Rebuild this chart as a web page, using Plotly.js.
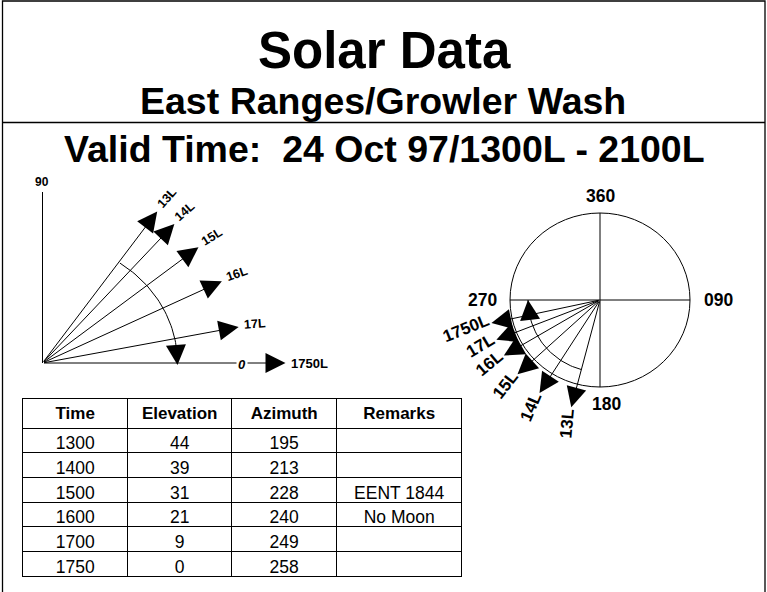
<!DOCTYPE html>
<html><head><meta charset="utf-8">
<script src="https://cdn.plot.ly/plotly-3.0.1.min.js"></script>
<style>html,body{margin:0;padding:0;background:#fff}</style>
</head><body>
<div id="chart" style="width:767px;height:592px"></div>
<script>
// ---------------- data ----------------
const times = ['1300', '1400', '1500', '1600', '1700', '1750'];
const elevation = [44, 39, 31, 21, 9, 0];
const azimuth = [195, 213, 228, 240, 249, 258];
const remarks = ['', '', 'EENT 1844', 'No Moon', '', ''];
const rayLabels = ['13L', '14L', '15L', '16L', '17L', '1750L'];
const tableHeaders = ['Time', 'Elevation', 'Azimuth', 'Remarks'];
const compassLabels = ['360', '090', '180', '270'];
const compassAngles = [0, 90, 180, 270];
const elevationTickLabels = ['90', '0'];

// ---------------- geometry / style (pixel frame) ----------------
const W = 767, H = 592;
const FONT = 'Liberation Sans, Arial, sans-serif';
const O = {x: 42.5, y: 363};          // elevation diagram origin
const STRETCH = 1.25;                  // drawn angle = STRETCH * elevation
const RAY_A = 200, RAY_B = 185;        // elevation ray tip ellipse
const ZERO_EXTRA = 43;                 // horizon ray extends past "0"
const ARC_A = 135, ARC_B = 122;
const VERT_LEN = 171;
const C = {x: 600, y: 300};            // compass centre
const CR_X = 90, CR_Y = 87;
const RAY_LEN = 111, ARC_R = 72;
const HEAD = 4.0;
const rad = d => d * Math.PI / 180;

const shapes = [];
const annotations = [];
const traces = [];

function arrow(x0, y0, x1, y1, size) {
  annotations.push({x: x1, y: y1, ax: x0, ay: y0, xref: 'x', yref: 'y', axref: 'x', ayref: 'y',
    text: '', showarrow: true, arrowhead: 2, arrowsize: size || HEAD, arrowwidth: 1,
    arrowcolor: '#000', standoff: 0, startstandoff: 0});
}
function label(x, y, text, size, angle, extra) {
  annotations.push(Object.assign({x: x, y: y, xref: 'x', yref: 'y', text: text, showarrow: false,
    xanchor: 'center', yanchor: 'middle', textangle: angle || 0, borderpad: 0,
    font: {family: FONT, size: size, color: '#000', weight: 'bold'}}, extra || {}));
}
function textW(t, size) { // rough bold text width
  let w = 0; for (const ch of t) w += (ch === 'L' ? 0.611 : 0.556); return w * size;
}

// frame and separator
shapes.push({type: 'rect', xref: 'x', yref: 'y', x0: 2.5, y0: 1, x1: 765, y1: 600, line: {color: '#000', width: 1.3}});
shapes.push({type: 'line', xref: 'x', yref: 'y', x0: 2.5, y0: 122.5, x1: 765, y1: 122.5, line: {color: '#000', width: 1.3}});

// titles
label(384, 50, 'Solar Data', 51);
label(383, 101, 'East Ranges/Growler Wash', 37.5);
label(384, 149, 'Valid Time:  24 Oct 97/1300L - 2100L', 37.5);

// ---------------- elevation diagram ----------------
shapes.push({type: 'line', xref: 'x', yref: 'y', x0: O.x, y0: O.y, x1: O.x, y1: O.y - VERT_LEN, line: {color: '#000', width: 1}});
label(O.x - 1, O.y - VERT_LEN - 10, elevationTickLabels[0], 12);

elevation.forEach((el, i) => {
  const phi = rad(STRETCH * el);
  const extra = el === 0 ? ZERO_EXTRA : 0;
  const tx = O.x + (RAY_A + extra) * Math.cos(phi);
  const ty = O.y - RAY_B * Math.sin(phi);
  arrow(O.x, O.y, tx, ty);
  const fs = el === 0 ? 13 : 12.5;
  const d = 6 + textW(rayLabels[i], fs) / 2;
  const ang = el === 0 ? 0 : -Math.max(0, STRETCH * el - 7);
  label(tx + d * Math.cos(phi), ty - d * Math.sin(phi), rayLabels[i], fs, ang);
  if (el === 0) {
    label(O.x + RAY_A - 1, O.y + 1, elevationTickLabels[1], 13, 0,
      {font: {family: FONT, size: 13, color: '#000', weight: 'bold', style: 'italic'}, bgcolor: '#fff', borderpad: 1});
  }
});
// sweep arc (first to last elevation)
{
  const ax = [], ay = [];
  const p0 = STRETCH * elevation[0], p1 = STRETCH * elevation[elevation.length - 1];
  for (let k = 0; k <= 40; k++) {
    const p = rad(p0 + (p1 - p0) * k / 40);
    ax.push(O.x + ARC_A * Math.cos(p)); ay.push(O.y - ARC_B * Math.sin(p));
  }
  traces.push({type: 'scatter', mode: 'lines', x: ax, y: ay, line: {color: '#000', width: 1}, hoverinfo: 'skip', showlegend: false});
  const pe = rad(p1 + 9);
  arrow(O.x + ARC_A * Math.cos(pe), O.y - ARC_B * Math.sin(pe), O.x + ARC_A * Math.cos(rad(p1)), O.y + 2);
}

// ---------------- azimuth compass ----------------
shapes.push({type: 'circle', xref: 'x', yref: 'y', x0: C.x - CR_X, x1: C.x + CR_X, y0: C.y - CR_Y, y1: C.y + CR_Y, line: {color: '#000', width: 1}});
shapes.push({type: 'line', xref: 'x', yref: 'y', x0: C.x - CR_X, x1: C.x + CR_X, y0: C.y, y1: C.y, line: {color: '#000', width: 1}});
shapes.push({type: 'line', xref: 'x', yref: 'y', x0: C.x, x1: C.x, y0: C.y - CR_Y, y1: C.y + CR_Y, line: {color: '#000', width: 1}});
compassAngles.forEach((a, i) => {
  const r = (a % 180 === 0) ? CR_Y + 17 : CR_X + 28;
  label(C.x + r * Math.sin(rad(a)) + (a === 180 ? 6 : 0), C.y - r * Math.cos(rad(a)), compassLabels[i], 17.5);
});
azimuth.forEach((az, i) => {
  const sx = Math.sin(rad(az)), sy = -Math.cos(rad(az));
  const tx = C.x + RAY_LEN * sx, ty = C.y + RAY_LEN * sy;
  arrow(C.x, C.y, tx, ty);
  const d = RAY_LEN + 2 + textW(rayLabels[i], 17) / 2;
  label(C.x + d * sx, C.y + d * sy, rayLabels[i], 17, az - 280);
});
{
  const ax = [], ay = [];
  const a0 = azimuth[0], a1 = 270;
  for (let k = 0; k <= 40; k++) {
    const a = rad(a0 + (a1 - a0) * k / 40);
    ax.push(C.x + ARC_R * Math.sin(a)); ay.push(C.y - ARC_R * Math.cos(a));
  }
  traces.push({type: 'scatter', mode: 'lines', x: ax, y: ay, line: {color: '#000', width: 1}, hoverinfo: 'skip', showlegend: false});
  const ae = rad(a1 - 12);
  arrow(C.x + ARC_R * Math.sin(ae), C.y - ARC_R * Math.cos(ae), C.x + ARC_R * Math.sin(rad(a1)), C.y - ARC_R * Math.cos(rad(a1)));
}

// ---------------- table ----------------
const TB = {x0: 22.7, x1: 461.7, y0: 398, y1: 588};
traces.push({
  type: 'table',
  domain: {x: [TB.x0 / W, TB.x1 / W], y: [1 - TB.y1 / H, 1 - TB.y0 / H]},
  columnwidth: [105, 104, 105, 125],
  header: {values: tableHeaders, height: 30, align: 'center',
    line: {color: '#000', width: 1}, fill: {color: '#fff'},
    font: {family: FONT, size: 17, color: '#000', weight: 'bold'}},
  cells: {values: [times, elevation.map(String), azimuth.map(String), remarks], height: 24.7, align: 'center',
    line: {color: '#000', width: 1}, fill: {color: '#fff'},
    font: {family: FONT, size: 17.5, color: '#000'}}
});

const layout = {
  width: W, height: H, margin: {l: 0, r: 0, t: 0, b: 0},
  paper_bgcolor: '#fff', plot_bgcolor: '#fff', showlegend: false,
  xaxis: {range: [0, W], visible: false, fixedrange: true},
  yaxis: {range: [H, 0], visible: false, fixedrange: true},
  shapes: shapes, annotations: annotations
};
Plotly.newPlot('chart', traces, layout, {displayModeBar: false, staticPlot: true});
</script>
</body></html>
